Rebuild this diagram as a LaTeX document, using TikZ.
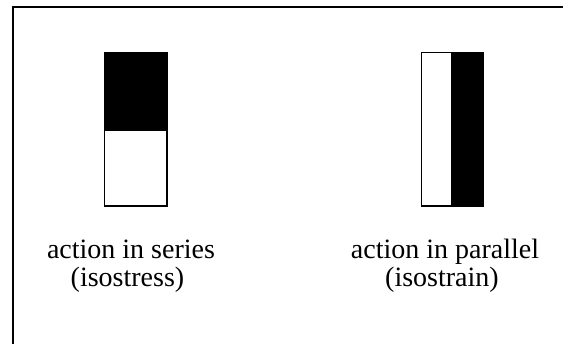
\documentclass[tikz,border=0pt]{standalone}
\usepackage{fontspec}
\setmainfont{Liberation Serif}
\begin{document}
\begin{tikzpicture}[x=1pt,y=-1pt,
  part/.style={draw=black,line width=1.3pt,inner sep=0pt,outer sep=0pt,anchor=north west},
  dark/.style={part,fill=black},
  light/.style={part,fill=white},
  caption/.style={inner sep=0pt,anchor=base,font=\fontsize{28}{28}\selectfont}]
\useasboundingbox (0,0) rectangle (563,344);
% frame
\draw[line width=2pt] (12.5,344) -- (12.5,7.5) -- (563,7.5);
% series (isostress)
\node[dark, minimum width=62.5pt, minimum height=77.5pt] (stop) at (104.5,52.5) {};
\node[light, minimum width=62.5pt, minimum height=76pt] (sbot) at (104.5,130) {};
% parallel (isostrain)
\node[light, minimum width=30.5pt, minimum height=153.5pt] (pleft) at (421.5,52.5) {};
\node[dark, minimum width=31pt, minimum height=153.5pt] (pright) at (452,52.5) {};
% captions
\node[caption] (s1) at (131,258.3) {action in series};
\node[caption] (s2) at (127.5,286.7) {(isostress)};
\node[caption] (p1) at (445,258.3) {action in parallel};
\node[caption] (p2) at (442,286.7) {(isostrain)};
\end{tikzpicture}
\end{document}
